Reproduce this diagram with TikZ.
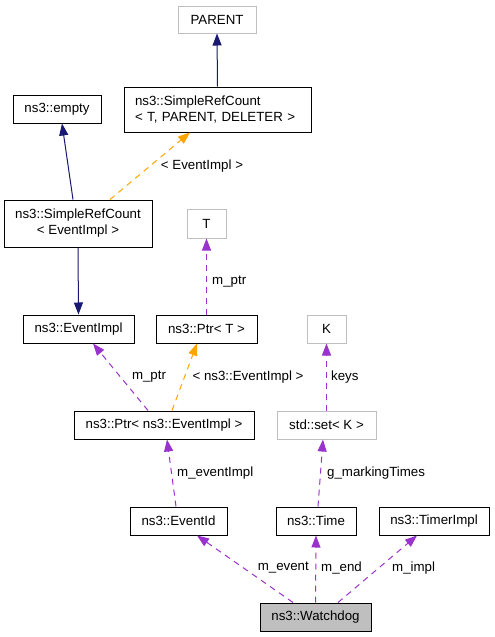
\documentclass[tikz,border=0pt]{standalone}
\usepackage{fontspec}
\setmainfont{Liberation Sans}
\usetikzlibrary{arrows.meta}
\definecolor{edgeblue}{HTML}{191970}
\definecolor{edgeorange}{HTML}{FFA500}
\definecolor{edgepurple}{HTML}{9A32CD}
\definecolor{boxgray}{HTML}{BFBFBF}
\begin{document}
\begin{tikzpicture}[x=1pt,y=-1pt,
  every node/.style={font=\fontsize{13.3}{16}\selectfont, inner sep=0pt},
  cls/.style={draw=black, line width=1pt, fill=white, minimum height=28pt},
  ext/.style={draw=boxgray, line width=1pt, fill=white, minimum height=28pt},
  main/.style={draw=black, line width=1pt, fill=boxgray, minimum height=28pt},
  inh/.style={draw=edgeblue, line width=1pt, -{Triangle[length=12pt,width=9pt]}},
  tmpl/.style={draw=edgeorange, line width=1pt, dash pattern=on 6pt off 5pt, -{Triangle[length=12pt,width=9pt]}},
  use/.style={draw=edgepurple, line width=1pt, dash pattern=on 6pt off 5pt, -{Triangle[length=12pt,width=9pt]}},
  lbl/.style={fill=none, draw=none}
]
\useasboundingbox (0,0) rectangle (495,637);
\fill[white] (0,0) rectangle (495,637);

% nodes
\node[ext, minimum width=78pt, minimum height=27pt] (parent) at (217,19.5) {PARENT};
\node[cls, minimum width=187pt, minimum height=45pt, align=left, text width=165pt] (src) at (217.5,109.5)
  {ns3::SimpleRefCount\\< T, PARENT, DELETER >};
\node[cls, minimum width=88pt] (empty) at (57,109) {ns3::empty};
\node[cls, minimum width=148pt, minimum height=47pt, align=center] (sre) at (78,223.5)
  {ns3::SimpleRefCount\\< EventImpl >};
\node[ext, minimum width=39pt, minimum height=29pt] (T) at (206.5,223.5) {T};
\node[cls, minimum width=111pt] (eventimpl) at (78.5,329) {ns3::EventImpl};
\node[cls, minimum width=101pt] (ptrT) at (206.5,329) {ns3::Ptr< T >};
\node[ext, minimum width=39pt] (K) at (326.5,329) {K};
\node[cls, minimum width=180pt] (ptrEI) at (164,425) {ns3::Ptr< ns3::EventImpl >};
\node[ext, minimum width=99pt] (set) at (326.5,425) {std::set< K >};
\node[cls, minimum width=97pt] (eventid) at (178.5,521) {ns3::EventId};
\node[cls, minimum width=80pt] (time) at (316,521) {ns3::Time};
\node[cls, minimum width=110pt] (timerimpl) at (434,521) {ns3::TimerImpl};
\node[main, minimum width=111pt] (watchdog) at (315.5,617) {ns3::Watchdog};

% edges
\draw[inh] (src.north) -- (parent.south);
\draw[inh] ([xshift=-5pt]sre.north) -- ([xshift=5pt]empty.south);
\draw[tmpl] ([xshift=32pt]sre.north) -- ([xshift=-27.5pt]src.south);
\node[lbl] (l1) at (202,166) {< EventImpl >};
\draw[inh] (sre.south) -- (eventimpl.north);
\draw[use] (ptrT.north) -- (T.south);
\node[lbl, anchor=west] (l2) at (212,282) {m\_ptr};
\draw[use] ([xshift=-16pt]ptrEI.north) -- ([xshift=14.5pt]eventimpl.south);
\node[lbl] (l3) at (149,377) {m\_ptr};
\draw[tmpl] ([xshift=8pt]ptrEI.north) -- ([xshift=-9.5pt]ptrT.south);
\node[lbl] (l4) at (248,377) {< ns3::EventImpl >};
\draw[use] (set.north) -- (K.south);
\node[lbl, anchor=west] (l5) at (331,377) {keys};
\draw[use] ([xshift=-2.5pt]eventid.north) -- ([xshift=3pt]ptrEI.south);
\node[lbl, anchor=west] (l6) at (177,473) {m\_eventImpl};
\draw[use] ([xshift=2pt]time.north) -- ([xshift=-3.5pt]set.south);
\node[lbl, anchor=west] (l7) at (327,473) {g\_markingTimes};
\draw[use] ([xshift=-22.5pt]watchdog.north) -- ([xshift=18.5pt]eventid.south);
\node[lbl, anchor=east] (l8) at (309,568) {m\_event};
\draw[use] (watchdog.north) -- (time.south);
\node[lbl, anchor=west] (l9) at (321,568) {m\_end};
\draw[use] ([xshift=22.5pt]watchdog.north) -- ([xshift=-17pt]timerimpl.south);
\node[lbl, anchor=west] (l10) at (392,568) {m\_impl};
\end{tikzpicture}
\end{document}
